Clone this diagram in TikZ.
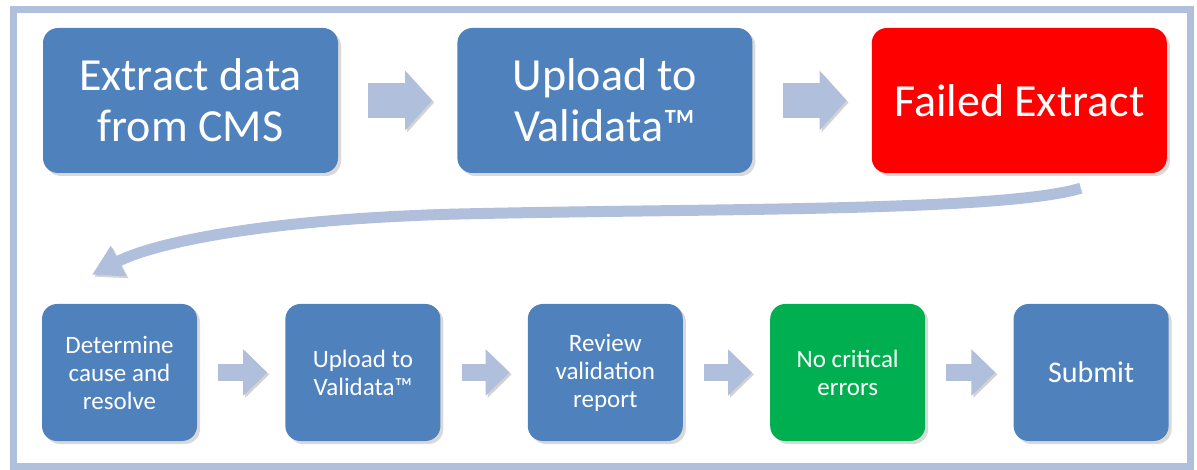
\documentclass[tikz,border=0pt]{standalone}
\usepackage{fontspec}
\setmainfont{Carlito}
\usetikzlibrary{arrows.meta,positioning,shadows}
\definecolor{boxblue}{HTML}{4F81BD}
\definecolor{boxred}{HTML}{FF0000}
\definecolor{boxgreen}{HTML}{00B050}
\definecolor{arrowblue}{HTML}{B0BFDC}

\begin{document}
\begin{tikzpicture}[
   x=1pt,y=1pt,
   node distance=119pt,
   bigbox/.style={rounded corners=15pt,minimum width=295pt,minimum height=145pt,
               align=center,text=white,fill=boxblue,font=\fontsize{46}{51}\selectfont,
               drop shadow={shadow xshift=3pt,shadow yshift=-3pt,opacity=.3}},
   smallbox/.style={bigbox,minimum width=155pt,minimum height=137pt,
               font=\fontsize{25}{28}\selectfont},
   shade/.style={preaction={draw=black!35,opacity=.5,transform canvas={xshift=2pt,yshift=-2pt}}},
   blockarr/.style={shade,line width=35pt,draw=arrowblue,-{Triangle[length=27pt,width=58pt]}},
   smallarr/.style={shade,line width=17pt,draw=arrowblue,-{Triangle[length=24pt,width=45pt]}},
   curvearr/.style={shade,line width=11pt,draw=arrowblue,-{Triangle[length=30pt,width=32pt]}}
 ]
  \useasboundingbox (0,0) rectangle (1197,-470);
  \draw[arrowblue,line width=7pt,preaction={draw=black!30,transform canvas={xshift=1.5pt,yshift=-1.5pt}}]
    (13,-10) rectangle (1190,-466);
  \node[bigbox] (extract) at (190.5,-100.5) {Extract data\\from CMS};
  \node[bigbox,right=of extract] (upload) {Upload to\\Validata™};
  \node[bigbox,right=of upload,fill=boxred] (failed) {Failed Extract};
  \node[smallbox] (resolve) at (119.5,-372.5) {Determine\\cause and\\resolve};
  \node[smallbox,right=88pt of resolve] (reupload) {Upload to\\Validata™};
  \node[smallbox,right=87pt of reupload] (review) {Review\\validation\\report};
  \node[smallbox,right=87pt of review,fill=boxgreen] (noerr) {No critical\\errors};
  \node[smallbox,right=88pt of noerr,font=\fontsize{30}{34}\selectfont] (submit) {Submit};
  \draw[blockarr] ([xshift=30pt]extract.east) -- ([xshift=-25pt]upload.west);
  \draw[blockarr] ([xshift=30pt]upload.east) -- ([xshift=-25pt]failed.west);
  \coordinate (bendstart) at ([xshift=61.5pt,yshift=-15pt]failed.south);
  \coordinate (bendend) at ([xshift=-27.5pt,yshift=29pt]resolve.north);
  \draw[curvearr] (bendstart) .. controls +(-80,-24) and +(250,6) .. ++(-630,-26)
    .. controls +(-200,-6) and +(58,30) .. (bendend);
  \draw[smallarr] ([xshift=21pt]resolve.east) -- ([xshift=-18pt]reupload.west);
  \draw[smallarr] ([xshift=21pt]reupload.east) -- ([xshift=-18pt]review.west);
  \draw[smallarr] ([xshift=21pt]review.east) -- ([xshift=-18pt]noerr.west);
  \draw[smallarr] ([xshift=21pt]noerr.east) -- ([xshift=-18pt]submit.west);
 \end{tikzpicture}
\end{document}
